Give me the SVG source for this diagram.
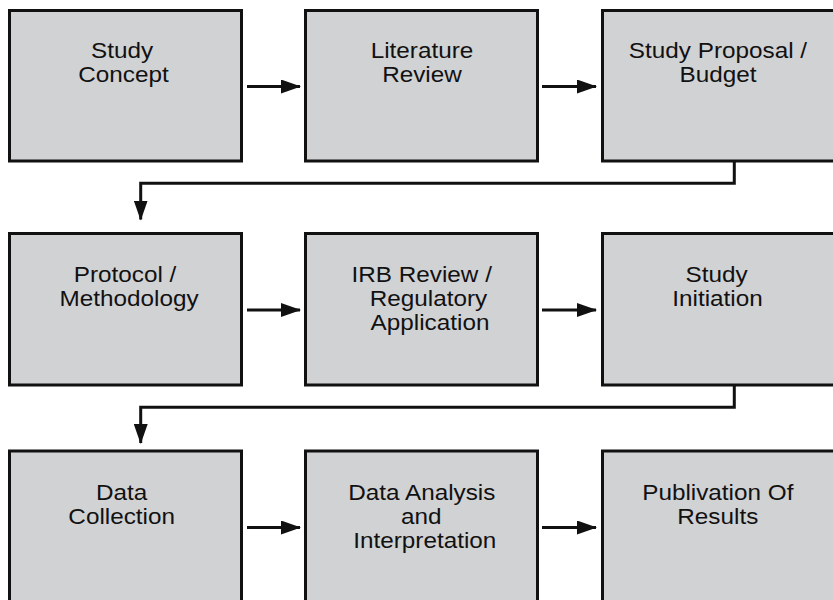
<svg xmlns="http://www.w3.org/2000/svg" width="833" height="600" viewBox="0 0 833 600">
<style>
.box{fill:#d1d2d4;stroke:#111;stroke-width:3}
.lbl{font-family:"Liberation Sans",Arial,Helvetica,sans-serif;font-size:21.5px;fill:#111;text-anchor:middle}
.conn{fill:none;stroke:#111;stroke-width:3}
</style>
<defs>
<marker id="ah" markerWidth="20" markerHeight="14" refX="19" refY="7" orient="auto" markerUnits="userSpaceOnUse">
<path d="M0,0 L20,7 L0,14 Z" fill="#111"/>
</marker>
</defs>
<rect width="833" height="600" fill="#fff"/>
<g id="n1"><rect class="box" x="9.5" y="10.5" width="232" height="150.5"/>
<text class="lbl" transform="translate(122,58) scale(1.13,1)">Study</text>
<text class="lbl" transform="translate(123.5,82) scale(1.13,1)">Concept</text></g>
<g id="n2"><rect class="box" x="305.5" y="10.5" width="232" height="150.5"/>
<text class="lbl" transform="translate(422,58) scale(1.13,1)">Literature</text>
<text class="lbl" transform="translate(422,82) scale(1.13,1)">Review</text></g>
<g id="n3"><rect class="box" x="602.5" y="10.5" width="240" height="150.5"/>
<text class="lbl" transform="translate(718,58) scale(1.13,1)">Study Proposal /</text>
<text class="lbl" transform="translate(718,82) scale(1.13,1)">Budget</text></g>
<g id="n4"><rect class="box" x="9.5" y="233.5" width="232" height="151.5"/>
<text class="lbl" transform="translate(125,282) scale(1.13,1)">Protocol /</text>
<text class="lbl" transform="translate(129,306) scale(1.13,1)">Methodology</text></g>
<g id="n5"><rect class="box" x="305.5" y="233.5" width="232" height="151.5"/>
<text class="lbl" transform="translate(421.7,282) scale(1.13,1)">IRB Review /</text>
<text class="lbl" transform="translate(428.5,306) scale(1.13,1)">Regulatory</text>
<text class="lbl" transform="translate(430,330) scale(1.13,1)">Application</text></g>
<g id="n6"><rect class="box" x="602.5" y="233.5" width="240" height="151.5"/>
<text class="lbl" transform="translate(716.5,282) scale(1.13,1)">Study</text>
<text class="lbl" transform="translate(717.5,306) scale(1.13,1)">Initiation</text></g>
<g id="n7"><rect class="box" x="9.5" y="451" width="232" height="160"/>
<text class="lbl" transform="translate(121.7,500) scale(1.13,1)">Data</text>
<text class="lbl" transform="translate(121.7,524) scale(1.13,1)">Collection</text></g>
<g id="n8"><rect class="box" x="305.5" y="451" width="232" height="160"/>
<text class="lbl" transform="translate(421.8,500) scale(1.13,1)">Data Analysis</text>
<text class="lbl" transform="translate(421.3,524) scale(1.13,1)">and</text>
<text class="lbl" transform="translate(424.8,548) scale(1.13,1)">Interpretation</text></g>
<g id="n9"><rect class="box" x="602.5" y="451" width="240" height="160"/>
<text class="lbl" transform="translate(717.8,500) scale(1.13,1)">Publivation Of</text>
<text class="lbl" transform="translate(717.8,524) scale(1.13,1)">Results</text></g>
<g id="connectors">
<line class="conn" x1="247" y1="86.5" x2="300" y2="86.5" marker-end="url(#ah)"/>
<line class="conn" x1="542" y1="86.5" x2="596" y2="86.5" marker-end="url(#ah)"/>
<polyline class="conn" points="734.3,161 734.3,183.3 140.7,183.3 140.7,219.5" marker-end="url(#ah)"/>
<line class="conn" x1="247" y1="310" x2="300" y2="310" marker-end="url(#ah)"/>
<line class="conn" x1="542" y1="310" x2="596" y2="310" marker-end="url(#ah)"/>
<polyline class="conn" points="734.3,385 734.3,407.3 140.7,407.3 140.7,443" marker-end="url(#ah)"/>
<line class="conn" x1="247" y1="527.5" x2="300" y2="527.5" marker-end="url(#ah)"/>
<line class="conn" x1="542" y1="527.5" x2="596" y2="527.5" marker-end="url(#ah)"/>
</g>
</svg>
